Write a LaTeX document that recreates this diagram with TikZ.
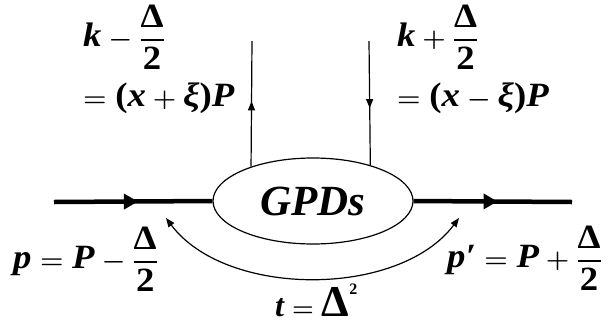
\documentclass[tikz,border=0pt]{standalone}
\usepackage{amsmath}
\usepackage{graphicx}
\usepackage{fontspec}
\newfontfamily\gfont{Liberation Serif}
\usetikzlibrary{shapes.geometric,arrows.meta,decorations.markings}
\newcommand\gbi[1]{\text{\gfont\bfseries\itshape #1}}
\newcommand\gbu[1]{\text{\gfont\bfseries #1}}
\newcommand\gfr[2]{\genfrac{}{}{2pt}{0}{\gbu{#1}}{\raisebox{-4pt}{\gbu{#2}}}}
\newcommand\gwide[1]{\scalebox{1.08}[1]{#1}}
\begin{document}
\begin{tikzpicture}[x=1pt,y=-1pt,
  lbl/.style={inner sep=0pt, font=\fontsize{34}{40}\selectfont\boldmath},
  heavy/.style={line width=4.5pt},
  thinl/.style={line width=1.2pt},
  bigtri/.style={decoration={markings, mark=at position #1 with {\arrow{Triangle[length=14pt,width=15pt]}}}, postaction={decorate}},
  smalltri/.style={decoration={markings, mark=at position #1 with {\arrow{Triangle[length=9pt,width=7pt]}}}, postaction={decorate}}]
\useasboundingbox (0,0) rectangle (608,322);
\node[ellipse, draw, line width=1.2pt, minimum width=200pt, minimum height=86pt, inner sep=0pt,
  font=\fontsize{43}{50}\selectfont\gfont\bfseries\itshape] (gpd) at (313,201) {GPDs};
\coordinate (lin) at (54,202);
\coordinate (rout) at (572,202);
\coordinate (kl) at (252,41);
\coordinate (kr) at (369,41);
\coordinate (ta) at (166,218);
\coordinate (tb) at (459,218);
\draw[heavy, bigtri=0.53] (lin) -- (gpd.west);
\draw[heavy, bigtri=0.53] (gpd.east) -- (rout);
\draw[thinl, smalltri=0.52] (gpd.151) -- (kl);
\draw[thinl, smalltri=0.54] (kr) -- (gpd.32);
\draw[thinl, {Triangle[length=9pt,width=7pt]}-{Triangle[length=9pt,width=7pt]}]
  (ta) .. controls (226,298) and (399,298) .. (tb);
\node[lbl, anchor=base west] (kl1) at (83,46.5) {\gwide{$\gbi{k}-\gfr{Δ}{2}$}};
\node[lbl, anchor=base west] (kl2) at (83,106) {\gwide{$=\gbu{(}\gbi{x}+\gbi{ξ}\gbu{)}\gbi{P}$}};
\node[lbl, anchor=base west] (kr1) at (397,46.5) {\gwide{$\gbi{k}+\gfr{Δ}{2}$}};
\node[lbl, anchor=base west] (kr2) at (397,106) {\gwide{$=\gbu{(}\gbi{x}-\gbi{ξ}\gbu{)}\gbi{P}$}};
\node[lbl, anchor=base west] (pl) at (13,268.5) {\gwide{$\gbi{p}=\gbi{P}-\gfr{Δ}{2}$}};
\node[lbl, anchor=base west] (pr) at (447,267.5) {\gwide{$\gbi{p′}=\gbi{P}+\gfr{Δ}{2}$}};
\node[lbl, anchor=base west, font=\fontsize{32}{38}\selectfont\boldmath] (tl) at (275,316) {$\gbi{t}=\text{\gfont\bfseries\fontsize{44}{44}\selectfont Δ}^{\text{\gfont\bfseries\fontsize{16}{16}\selectfont 2}}$};
\end{tikzpicture}
\end{document}
